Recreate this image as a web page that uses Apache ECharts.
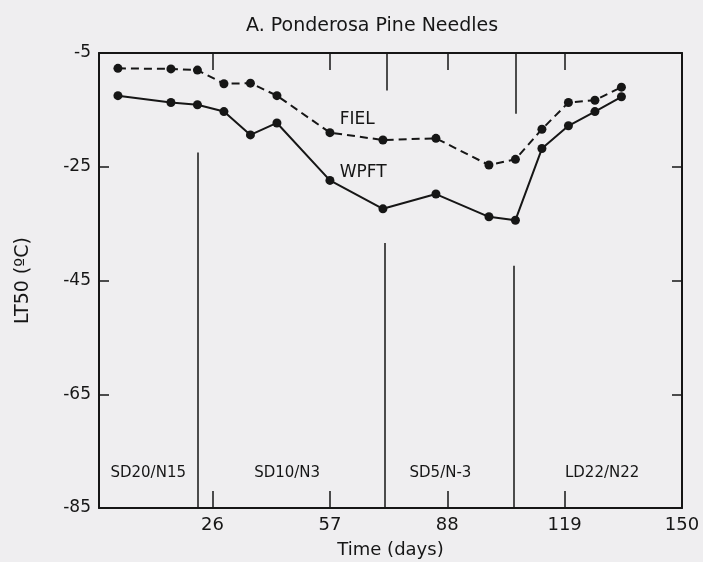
<!DOCTYPE html>
<html>
<head>
<meta charset="utf-8">
<script src="https://cdn.jsdelivr.net/npm/echarts@6/dist/echarts.min.js"></script>
<style>
  html, body { margin:0; padding:0; background:#efeef0; }
  #chart { width:703px; height:562px; }
</style>
</head>
<body>
<div id="chart"></div>
<script>
// Sampling days and LT50 values (°C)
const days = [1, 15, 22, 29, 36, 43, 57, 71, 85, 99, 106, 113, 120, 127, 134];
const fiel = [-7.7, -7.8, -8.0, -10.4, -10.3, -12.5, -19.0, -20.3, -20.0, -24.7, -23.7, -18.4, -13.7, -13.3, -11.0];
const wpft = [-12.5, -13.7, -14.1, -15.3, -19.4, -17.3, -27.4, -32.4, -29.8, -33.8, -34.4, -21.8, -17.8, -15.3, -12.7];

const xTicks = [26, 57, 88, 119, 150];
const yTicks = [-85, -65, -45, -25, -5];

// treatment phase dividers
const dividerDays = [22.2, 71.4, 105.6];
const dividerTops = [-22.5, -38.4, -42.4];
const upperStubDays = [71.9, 106.2];
const upperStubEnds = [-11.6, -15.7];

const phaseNames = ['SD20/N15', 'SD10/N3', 'SD5/N-3', 'LD22/N22'];
const phaseCenters = [9, 45.7, 86.2, 128.9];
const phaseLabelY = -78.9;

const seriesNames = ['FIEL', 'WPFT'];
const seriesLabelPos = [[64.2, -16.7], [65.8, -26.0]];

const INK = '#161616';
const FONT = '"DejaVu Sans", "Liberation Sans", sans-serif';

const chart = echarts.init(document.getElementById('chart'), null, { renderer:'canvas' });

const lineBase = {
  type:'line', symbol:'circle', symbolSize:9, smooth:false,
  itemStyle:{ color:INK }, z:5, silent:true
};

const dividerLines = dividerDays.map((d, i) => [
  { coord:[d, -85] }, { coord:[d, dividerTops[i]] }
]).concat(upperStubDays.map((d, i) => [
  { coord:[d, -5] }, { coord:[d, upperStubEnds[i]] }
]));

const textStyle = { color:INK, fontFamily:FONT };
const plainLabel = { textBorderWidth:0, textShadowBlur:0 };

chart.setOption({
  backgroundColor:'#efeef0',
  animation:false,
  title:{
    text:'A. Ponderosa Pine Needles', left:241, top:12,
    textStyle:{ color:INK, fontFamily:FONT, fontSize:19, fontWeight:'normal' }
  },
  grid:{ left:99, right:21, top:53, bottom:54, outerBoundsMode:'none', containLabel:false },
  xAxis:[{
    type:'value', min:-4, max:150, position:'bottom',
    name:'Time (days)', nameLocation:'middle', nameGap:33,
    nameTextStyle:{ ...textStyle, fontSize:18 },
    axisLine:{ show:true, onZero:false, lineStyle:{ color:INK, width:2 } },
    axisTick:{ show:true, inside:true, length:17, customValues:xTicks, lineStyle:{ color:INK, width:1.5 } },
    axisLabel:{ show:true, customValues:xTicks, margin:8, ...textStyle, fontSize:18 },
    splitLine:{ show:false }
  }, {
    type:'value', min:-4, max:150, position:'top',
    axisLine:{ show:true, onZero:false, lineStyle:{ color:INK, width:2 } },
    axisTick:{ show:true, inside:true, length:17, customValues:xTicks, lineStyle:{ color:INK, width:1.5 } },
    axisLabel:{ show:false },
    splitLine:{ show:false }
  }],
  yAxis:[{
    type:'value', min:-85, max:-5, position:'left',
    name:'LT50 (ºC)', nameLocation:'middle', nameGap:66,
    nameTextStyle:{ ...textStyle, fontSize:19 },
    axisLine:{ show:true, onZero:false, lineStyle:{ color:INK, width:2 } },
    axisTick:{ show:true, inside:true, length:10, customValues:yTicks, lineStyle:{ color:INK, width:1.5 } },
    axisLabel:{ show:true, customValues:yTicks, margin:8, ...textStyle, fontSize:17 },
    splitLine:{ show:false }
  }, {
    type:'value', min:-85, max:-5, position:'right',
    axisLine:{ show:true, onZero:false, lineStyle:{ color:INK, width:2 } },
    axisTick:{ show:true, inside:true, length:10, customValues:yTicks, lineStyle:{ color:INK, width:1.5 } },
    axisLabel:{ show:false },
    splitLine:{ show:false }
  }],
  series:[
    { ...lineBase, name:'FIEL', data:days.map((d, i) => [d, fiel[i]]),
      lineStyle:{ color:INK, width:2, type:[8, 5] } },
    { ...lineBase, name:'WPFT', data:days.map((d, i) => [d, wpft[i]]),
      lineStyle:{ color:INK, width:2 },
      markLine:{
        silent:true, symbol:'none', label:{ show:false },
        lineStyle:{ color:INK, width:1.5, type:'solid' },
        data:dividerLines
      } },
    { type:'scatter', symbolSize:0, silent:true, itemStyle:{ color:INK, opacity:1 },
      data:seriesNames.map((n, i) => ({ value:seriesLabelPos[i], name:n })),
      label:{ show:true, position:'inside', formatter:'{b}', ...textStyle, ...plainLabel, fontSize:17 } },
    { type:'scatter', symbolSize:0, silent:true, itemStyle:{ color:INK, opacity:1 },
      data:phaseNames.map((n, i) => ({ value:[phaseCenters[i], phaseLabelY], name:n })),
      label:{ show:true, position:'inside', formatter:'{b}', ...textStyle, ...plainLabel, fontSize:15 } }
  ]
});
</script>
</body>
</html>
